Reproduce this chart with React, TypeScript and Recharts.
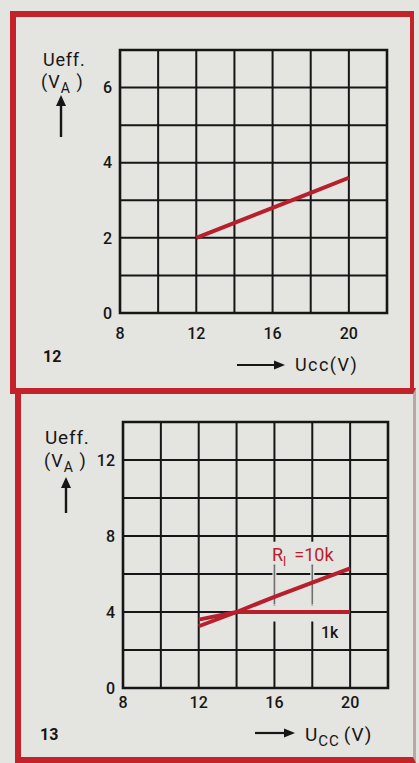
import React from "react";
import {
  LineChart,
  Line,
  XAxis,
  YAxis,
  CartesianGrid,
  ReferenceArea,
  ReferenceLine,
} from "recharts";

// Supply voltage grid (V) and output voltages (V_A) for both figures
const xGridTicks = [8, 10, 12, 14, 16, 18, 20, 22];
const xLabelTicks = [8, 12, 16, 20];

const fig12YTicks = [0, 1, 2, 3, 4, 5, 6, 7];
const fig12YLabels = [0, 2, 4, 6];
const fig12Ucc = [12, 14, 16, 18, 20];
const fig12Ueff = [2.0, 2.4, 2.8, 3.2, 3.6];

const fig13YTicks = [0, 2, 4, 6, 8, 10, 12, 14];
const fig13YLabels = [0, 4, 8, 12];
const fig13Ucc10k = [12, 14, 16, 18, 20];
const fig13Ueff10k = [3.25, 4.0, 4.8, 5.55, 6.3];
const fig13Ucc1k = [12, 14, 16, 18, 20];
const fig13Ueff1k = [3.6, 4.0, 4.0, 4.0, 4.0];

const BG = "#e4e4e0";
const FRAME = "#c3222a";
const CURVE = "#b61f2b";
const INK = "#161616";
const FONT = "Roboto, 'Liberation Sans', sans-serif";

const toRows = (xs: number[], ys: number[]) =>
  xs.map((x, i) => ({ ucc: x, ueff: ys[i] }));

const tickStyle = { fill: INK, fontSize: 16, fontWeight: 500, fontFamily: FONT };

const showX = (v: number) => (xLabelTicks.includes(v) ? String(v) : "");

function UpArrow({ x, top, bottom }: { x: number; top: number; bottom: number }) {
  return (
    <svg
      style={{ position: "absolute", left: x - 6, top, overflow: "visible" }}
      width={12}
      height={bottom - top}
    >
      <polygon points={`6,0 1,11 11,11`} fill={INK} />
      <line x1={6} y1={8} x2={6} y2={bottom - top} stroke={INK} strokeWidth={2.4} />
    </svg>
  );
}

function RightArrow({ left, right, y }: { left: number; right: number; y: number }) {
  const w = right - left;
  return (
    <svg
      style={{ position: "absolute", left, top: y - 6, overflow: "visible" }}
      width={w}
      height={12}
    >
      <line x1={0} y1={6} x2={w - 8} y2={6} stroke={INK} strokeWidth={2.2} />
      <polygon points={`${w},6 ${w - 11},1.5 ${w - 11},10.5`} fill={INK} />
    </svg>
  );
}

const textBase: React.CSSProperties = {
  position: "absolute",
  color: INK,
  fontFamily: FONT,
  fontWeight: 500,
  lineHeight: 1,
  whiteSpace: "nowrap",
};

export default function App() {
  const fig12Rows = toRows(fig12Ucc, fig12Ueff);
  const fig13Rows10k = toRows(fig13Ucc10k, fig13Ueff10k);
  const fig13Rows1k = toRows(fig13Ucc1k, fig13Ueff1k);

  return (
    <div
      style={{
        position: "absolute",
        left: 0,
        top: 0,
        width: 419,
        height: 763,
        background: BG,
        overflow: "hidden",
      }}
    >
      {/* frames */}
      <div
        style={{
          position: "absolute",
          left: 10,
          top: 11,
          width: 404,
          height: 383,
          boxSizing: "border-box",
          borderTop: `6px solid ${FRAME}`,
          borderLeft: `6px solid ${FRAME}`,
          borderBottom: `6px solid ${FRAME}`,
          borderRight: `4px solid ${FRAME}`,
        }}
      />
      <div
        style={{
          position: "absolute",
          left: 15,
          top: 388,
          width: 401,
          height: 375,
          boxSizing: "border-box",
          borderTop: `6px solid ${FRAME}`,
          borderLeft: `6px solid ${FRAME}`,
          borderBottom: `6px solid ${FRAME}`,
          borderRight: `3px solid #b9a8a6`,
        }}
      />

      {/* Figure 12 */}
      <div style={{ position: "absolute", left: 0, top: 0 }}>
        <LineChart
          width={419}
          height={395}
          margin={{ top: 50, right: 32, bottom: 52, left: 80 }}
        >
          <CartesianGrid stroke={INK} strokeWidth={2} />
          <XAxis
            dataKey="ucc"
            type="number"
            domain={[8, 22]}
            ticks={xGridTicks}
            tickFormatter={showX}
            interval={0}
            height={30}
            tickSize={0}
            tickMargin={15}
            axisLine={false}
            tick={tickStyle}
            allowDataOverflow
          />
          <YAxis
            type="number"
            domain={[0, 7]}
            ticks={fig12YTicks}
            tickFormatter={(v: number) => (fig12YLabels.includes(v) ? String(v) : "")}
            interval={0}
            width={40}
            tickSize={0}
            tickMargin={8}
            axisLine={false}
            tick={tickStyle}
            allowDataOverflow
          />
          <ReferenceArea
            x1={8}
            x2={22}
            y1={0}
            y2={7}
            fill="none"
            stroke={INK}
            strokeWidth={2.6}
          />
          <Line
            data={fig12Rows}
            dataKey="ueff"
            type="linear"
            stroke={CURVE}
            strokeWidth={4}
            dot={false}
            isAnimationActive={false}
          />
        </LineChart>
      </div>

      <div style={{ ...textBase, left: 43, top: 51, fontSize: 18, fontWeight: 400, letterSpacing: 0.8 }}>
        Ueff.
      </div>
      <div style={{ ...textBase, left: 41, top: 73, fontSize: 18, fontWeight: 400, letterSpacing: 1 }}>
        (V<span style={{ fontSize: 14, position: "relative", top: 5 }}>A</span> )
      </div>
      <UpArrow x={61} top={95} bottom={137} />
      <div style={{ ...textBase, left: 43, top: 349, fontSize: 16, fontWeight: 700 }}>12</div>
      <RightArrow left={237} right={285} y={365} />
      <div style={{ ...textBase, left: 295, top: 356, fontSize: 18, fontWeight: 400, letterSpacing: 1.4 }}>
        Ucc(V)
      </div>

      {/* Figure 13 */}
      <div style={{ position: "absolute", left: 0, top: 385 }}>
        <LineChart
          width={419}
          height={378}
          margin={{ top: 37, right: 31, bottom: 45, left: 83 }}
        >
          <CartesianGrid stroke={INK} strokeWidth={2} />
          <XAxis
            dataKey="ucc"
            type="number"
            domain={[8, 22]}
            ticks={xGridTicks}
            tickFormatter={showX}
            interval={0}
            height={30}
            tickSize={0}
            tickMargin={9}
            axisLine={false}
            tick={tickStyle}
            allowDataOverflow
          />
          <YAxis
            type="number"
            domain={[0, 14]}
            ticks={fig13YTicks}
            tickFormatter={(v: number) => (fig13YLabels.includes(v) ? String(v) : "")}
            interval={0}
            width={40}
            tickSize={0}
            tickMargin={8}
            axisLine={false}
            tick={tickStyle}
            allowDataOverflow
          />
          <ReferenceArea
            x1={8}
            x2={22}
            y1={0}
            y2={14}
            fill="none"
            stroke={INK}
            strokeWidth={2.6}
          />
          {/* grid lines at 16 V and 18 V are broken around the curve labels */}
          {[16, 18].map((x) => (
            <ReferenceLine
              key={`gap-hi-${x}`}
              segment={[
                { x, y: 6.45 },
                { x, y: 7.7 },
              ]}
              stroke={BG}
              strokeWidth={4}
            />
          ))}
          {[16, 18].map((x) => (
            <ReferenceLine
              key={`grey-${x}`}
              segment={[
                { x, y: 4.35 },
                { x, y: 6.45 },
              ]}
              stroke={BG}
              strokeWidth={4}
            />
          ))}
          {[16, 18].map((x) => (
            <ReferenceLine
              key={`dash-${x}`}
              segment={[
                { x, y: 4.4 },
                { x, y: 6.5 },
              ]}
              stroke="#6f6f6f"
              strokeWidth={1.6}
            />
          ))}
          {[16, 18].map((x) => (
            <ReferenceLine
              key={`gap-lo-${x}`}
              segment={[
                { x, y: 3.5 },
                { x, y: 4.35 },
              ]}
              stroke={BG}
              strokeWidth={4}
            />
          ))}
          <Line
            data={fig13Rows1k}
            dataKey="ueff"
            type="linear"
            stroke={CURVE}
            strokeWidth={4}
            dot={false}
            isAnimationActive={false}
          />
          <Line
            data={fig13Rows10k}
            dataKey="ueff"
            type="linear"
            stroke={CURVE}
            strokeWidth={4}
            dot={false}
            isAnimationActive={false}
          />
        </LineChart>
      </div>

      <div style={{ ...textBase, left: 45, top: 428, fontSize: 19, fontWeight: 400, letterSpacing: 0.8 }}>
        Ueff.
      </div>
      <div style={{ ...textBase, left: 44, top: 452, fontSize: 18, fontWeight: 400, letterSpacing: 1 }}>
        (V<span style={{ fontSize: 14, position: "relative", top: 5 }}>A</span> )
      </div>
      <UpArrow x={66} top={477} bottom={513} />
      <div style={{ ...textBase, left: 272, top: 546, fontSize: 18, fontWeight: 400, color: CURVE }}>
        R<span style={{ fontSize: 13, position: "relative", top: 5 }}>l</span>
        <span style={{ marginLeft: 8 }}>=10k</span>
      </div>
      <div style={{ ...textBase, left: 321, top: 625, fontSize: 16 }}>1k</div>
      <div style={{ ...textBase, left: 40, top: 727, fontSize: 16, fontWeight: 700 }}>13</div>
      <RightArrow left={255} right={295} y={733} />
      <div style={{ ...textBase, left: 305, top: 725, fontSize: 19, fontWeight: 400, letterSpacing: 1 }}>
        U<span style={{ fontSize: 15, position: "relative", top: 5 }}>CC</span>
        <span style={{ marginLeft: 4 }}>(V)</span>
      </div>
    </div>
  );
}
